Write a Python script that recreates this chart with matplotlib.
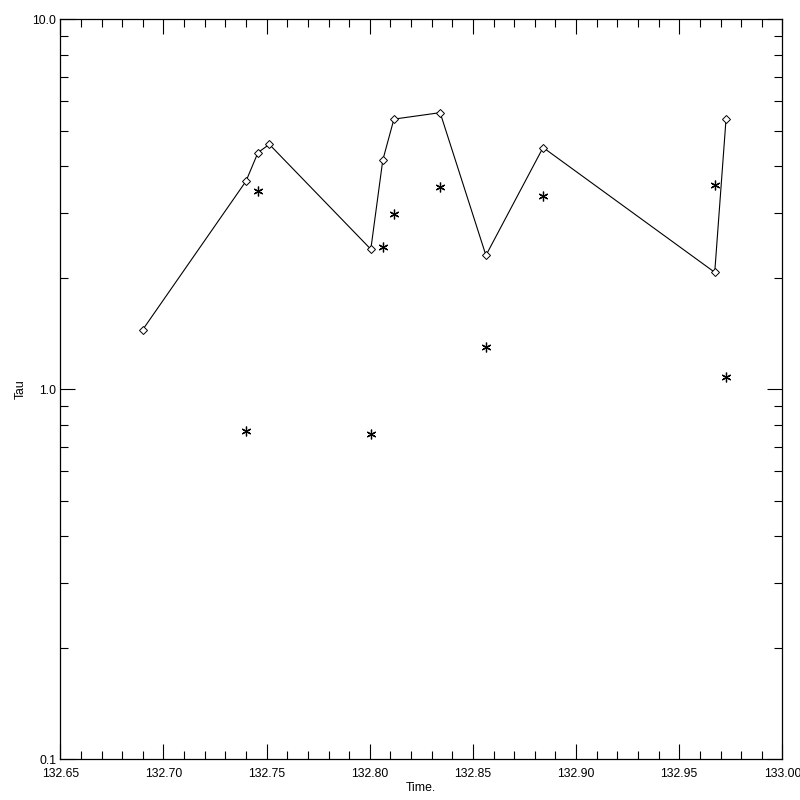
import numpy as np
import matplotlib
matplotlib.use("Agg")
from matplotlib import pyplot as plt
from matplotlib.ticker import FixedLocator, FuncFormatter

# diamonds joined by a line
time_line = [132.690, 132.740, 132.7458, 132.7513, 132.8005, 132.8063,
             132.8117, 132.8341, 132.8563, 132.884, 132.9672, 132.9727]
tau_line = [1.45, 3.65, 4.36, 4.59, 2.39, 4.16, 5.37, 5.59, 2.30, 4.50, 2.07, 5.39]

# asterisks
time_star = [132.740, 132.7458, 132.8005, 132.8063, 132.8117, 132.8341,
             132.8563, 132.884, 132.9672, 132.9727]
tau_star = [0.770, 3.43, 0.756, 2.42, 2.97, 3.53, 1.30, 3.32, 3.57, 1.08]

x_major = [132.65, 132.70, 132.75, 132.80, 132.85, 132.90, 132.95, 133.00]
y_major = [0.1, 1.0, 10.0]

plt.rcParams['font.family'] = ['Liberation Sans', 'DejaVu Sans']

fig = plt.figure(figsize=(8, 8), dpi=100)
ax = fig.add_axes([0.0754, 0.0509, 0.978 - 0.0754, 0.976 - 0.0509])

ax.plot(time_line, tau_line, color='black', lw=0.8, marker='D', ms=4.5,
        mfc='white', mec='black', mew=0.7)
ax.plot(time_star, tau_star, ls='none', color='black', marker=(6, 2, 0),
        ms=7, mew=0.9)

ax.set_yscale('log')
ax.set_xlim(132.65, 133.00)
ax.set_ylim(0.1, 10.0)

ax.xaxis.set_major_locator(FixedLocator(x_major))
ax.xaxis.set_minor_locator(FixedLocator(np.arange(132.65, 133.001, 0.01)))
ax.xaxis.set_major_formatter(FuncFormatter(lambda v, p: "%.2f" % v))
ax.yaxis.set_major_locator(FixedLocator(y_major))
minor_y = [m * d for d in (0.1, 1.0) for m in range(2, 10)]
ax.yaxis.set_minor_locator(FixedLocator(minor_y))
ax.yaxis.set_major_formatter(FuncFormatter(lambda v, p: "%.1f" % v))
ax.yaxis.set_minor_formatter(FuncFormatter(lambda v, p: ""))

ax.tick_params(which='both', direction='in', top=True, right=True,
               width=0.8, labelsize=8.8, colors='black')
ax.tick_params(axis='x', pad=6)
ax.tick_params(axis='y', pad=3)
ax.tick_params(which='major', length=11)
ax.tick_params(which='minor', length=6)
for s in ax.spines.values():
    s.set_linewidth(0.9)

ax.set_xlabel('Time.', fontsize=8.8, labelpad=2)
ax.set_ylabel('Tau', fontsize=8.8)
ax.yaxis.set_label_coords(-0.046, 0.5)

fig.savefig('out.png', dpi=100)
